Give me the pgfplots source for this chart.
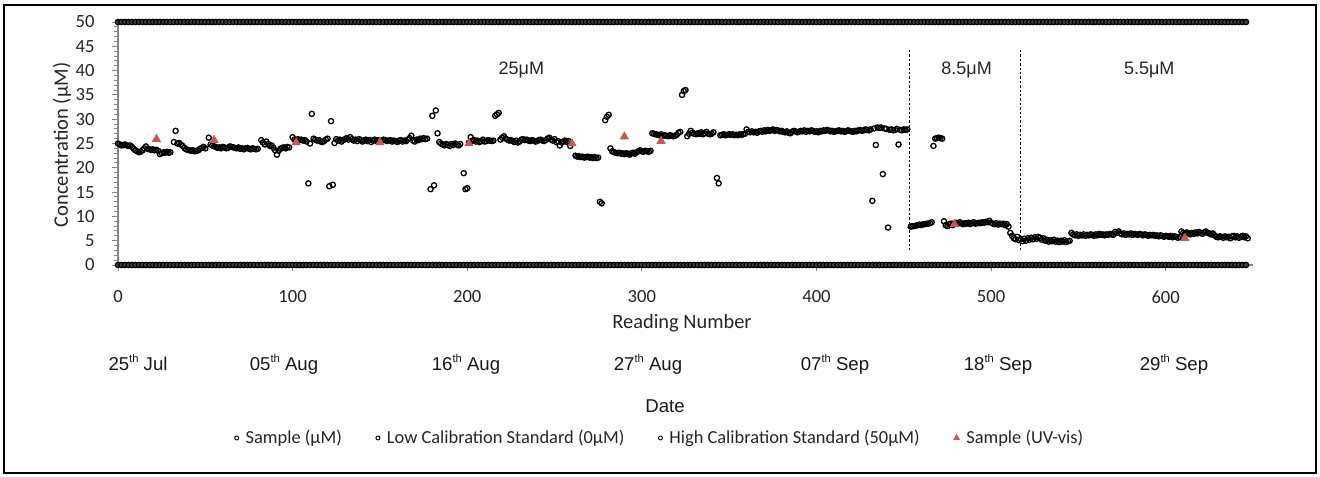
\documentclass[border=0pt]{standalone}
\usepackage{pgfplots}
\pgfplotsset{compat=1.18}
\usepackage{pgfplotstable}
\usepackage{fontspec}
\setmainfont{Carlito}
\newfontfamily\arialfont{Liberation Sans}
\definecolor{uvred}{RGB}{196,88,84}
\definecolor{axgray}{RGB}{134,134,134}
\newcommand{\sth}[1]{\raisebox{0.42em}{\fontsize{5.6}{6}\selectfont #1}}

\pgfplotstableread[row sep=\\]{
x lo hi\\
0 0 50\\ 2 0 50\\ 4 0 50\\ 6 0 50\\ 8 0 50\\ 10 0 50\\ 12 0 50\\ 14 0 50\\ 16 0 50\\ 18 0 50\\
20 0 50\\ 22 0 50\\ 24 0 50\\ 26 0 50\\ 28 0 50\\ 30 0 50\\ 32 0 50\\ 34 0 50\\ 36 0 50\\ 38 0 50\\
40 0 50\\ 42 0 50\\ 44 0 50\\ 46 0 50\\ 48 0 50\\ 50 0 50\\ 52 0 50\\ 54 0 50\\ 56 0 50\\ 58 0 50\\
60 0 50\\ 62 0 50\\ 64 0 50\\ 66 0 50\\ 68 0 50\\ 70 0 50\\ 72 0 50\\ 74 0 50\\ 76 0 50\\ 78 0 50\\
80 0 50\\ 82 0 50\\ 84 0 50\\ 86 0 50\\ 88 0 50\\ 90 0 50\\ 92 0 50\\ 94 0 50\\ 96 0 50\\ 98 0 50\\
100 0 50\\ 102 0 50\\ 104 0 50\\ 106 0 50\\ 108 0 50\\ 110 0 50\\ 112 0 50\\ 114 0 50\\ 116 0 50\\ 118 0 50\\
120 0 50\\ 122 0 50\\ 124 0 50\\ 126 0 50\\ 128 0 50\\ 130 0 50\\ 132 0 50\\ 134 0 50\\ 136 0 50\\ 138 0 50\\
140 0 50\\ 142 0 50\\ 144 0 50\\ 146 0 50\\ 148 0 50\\ 150 0 50\\ 152 0 50\\ 154 0 50\\ 156 0 50\\ 158 0 50\\
160 0 50\\ 162 0 50\\ 164 0 50\\ 166 0 50\\ 168 0 50\\ 170 0 50\\ 172 0 50\\ 174 0 50\\ 176 0 50\\ 178 0 50\\
180 0 50\\ 182 0 50\\ 184 0 50\\ 186 0 50\\ 188 0 50\\ 190 0 50\\ 192 0 50\\ 194 0 50\\ 196 0 50\\ 198 0 50\\
200 0 50\\ 202 0 50\\ 204 0 50\\ 206 0 50\\ 208 0 50\\ 210 0 50\\ 212 0 50\\ 214 0 50\\ 216 0 50\\ 218 0 50\\
220 0 50\\ 222 0 50\\ 224 0 50\\ 226 0 50\\ 228 0 50\\ 230 0 50\\ 232 0 50\\ 234 0 50\\ 236 0 50\\ 238 0 50\\
240 0 50\\ 242 0 50\\ 244 0 50\\ 246 0 50\\ 248 0 50\\ 250 0 50\\ 252 0 50\\ 254 0 50\\ 256 0 50\\ 258 0 50\\
260 0 50\\ 262 0 50\\ 264 0 50\\ 266 0 50\\ 268 0 50\\ 270 0 50\\ 272 0 50\\ 274 0 50\\ 276 0 50\\ 278 0 50\\
280 0 50\\ 282 0 50\\ 284 0 50\\ 286 0 50\\ 288 0 50\\ 290 0 50\\ 292 0 50\\ 294 0 50\\ 296 0 50\\ 298 0 50\\
300 0 50\\ 302 0 50\\ 304 0 50\\ 306 0 50\\ 308 0 50\\ 310 0 50\\ 312 0 50\\ 314 0 50\\ 316 0 50\\ 318 0 50\\
320 0 50\\ 322 0 50\\ 324 0 50\\ 326 0 50\\ 328 0 50\\ 330 0 50\\ 332 0 50\\ 334 0 50\\ 336 0 50\\ 338 0 50\\
340 0 50\\ 342 0 50\\ 344 0 50\\ 346 0 50\\ 348 0 50\\ 350 0 50\\ 352 0 50\\ 354 0 50\\ 356 0 50\\ 358 0 50\\
360 0 50\\ 362 0 50\\ 364 0 50\\ 366 0 50\\ 368 0 50\\ 370 0 50\\ 372 0 50\\ 374 0 50\\ 376 0 50\\ 378 0 50\\
380 0 50\\ 382 0 50\\ 384 0 50\\ 386 0 50\\ 388 0 50\\ 390 0 50\\ 392 0 50\\ 394 0 50\\ 396 0 50\\ 398 0 50\\
400 0 50\\ 402 0 50\\ 404 0 50\\ 406 0 50\\ 408 0 50\\ 410 0 50\\ 412 0 50\\ 414 0 50\\ 416 0 50\\ 418 0 50\\
420 0 50\\ 422 0 50\\ 424 0 50\\ 426 0 50\\ 428 0 50\\ 430 0 50\\ 432 0 50\\ 434 0 50\\ 436 0 50\\ 438 0 50\\
440 0 50\\ 442 0 50\\ 444 0 50\\ 446 0 50\\ 448 0 50\\ 450 0 50\\ 452 0 50\\ 454 0 50\\ 456 0 50\\ 458 0 50\\
460 0 50\\ 462 0 50\\ 464 0 50\\ 466 0 50\\ 468 0 50\\ 470 0 50\\ 472 0 50\\ 474 0 50\\ 476 0 50\\ 478 0 50\\
480 0 50\\ 482 0 50\\ 484 0 50\\ 486 0 50\\ 488 0 50\\ 490 0 50\\ 492 0 50\\ 494 0 50\\ 496 0 50\\ 498 0 50\\
500 0 50\\ 502 0 50\\ 504 0 50\\ 506 0 50\\ 508 0 50\\ 510 0 50\\ 512 0 50\\ 514 0 50\\ 516 0 50\\ 518 0 50\\
520 0 50\\ 522 0 50\\ 524 0 50\\ 526 0 50\\ 528 0 50\\ 530 0 50\\ 532 0 50\\ 534 0 50\\ 536 0 50\\ 538 0 50\\
540 0 50\\ 542 0 50\\ 544 0 50\\ 546 0 50\\ 548 0 50\\ 550 0 50\\ 552 0 50\\ 554 0 50\\ 556 0 50\\ 558 0 50\\
560 0 50\\ 562 0 50\\ 564 0 50\\ 566 0 50\\ 568 0 50\\ 570 0 50\\ 572 0 50\\ 574 0 50\\ 576 0 50\\ 578 0 50\\
580 0 50\\ 582 0 50\\ 584 0 50\\ 586 0 50\\ 588 0 50\\ 590 0 50\\ 592 0 50\\ 594 0 50\\ 596 0 50\\ 598 0 50\\
600 0 50\\ 602 0 50\\ 604 0 50\\ 606 0 50\\ 608 0 50\\ 610 0 50\\ 612 0 50\\ 614 0 50\\ 616 0 50\\ 618 0 50\\
620 0 50\\ 622 0 50\\ 624 0 50\\ 626 0 50\\ 628 0 50\\ 630 0 50\\ 632 0 50\\ 634 0 50\\ 636 0 50\\ 638 0 50\\
640 0 50\\ 642 0 50\\ 644 0 50\\ 646 0 50\\
}\calib

\begin{document}
\begin{tikzpicture}
\useasboundingbox (-59pt,-105.5pt) rectangle (601pt,132.5pt);
\draw[line width=1pt] (-57pt,-104pt) rectangle (599pt,130pt);
\begin{axis}[
  at={(0pt,0pt)}, anchor=south west,
  scale only axis, width=567.5pt, height=121.5pt,
  xmin=0, xmax=650, ymin=0, ymax=50,
  axis x line*=bottom, axis y line*=left,
  axis line style={draw=axgray, line width=0.6pt, -},
  every tick/.style={axgray, line width=0.5pt},
  tick align=outside, major tick length=3pt, minor tick length=1.8pt,
  xtick={0,100,...,600}, ytick={0,5,...,50}, minor y tick num=4,
  clip=false,
  /pgf/number format/assume math mode=true,
  ticklabel style={font=\fontsize{9.3}{10}\selectfont, text=black!85, inner sep=0pt},
  xticklabel style={anchor=center, yshift=-13pt},
  yticklabel style={anchor=east, xshift=-8.5pt},
  legend columns=4,
  legend style={at={(axis description cs:0.4784,-0.7119)}, anchor=center, draw=none, fill=none,
    font=\fontsize{9.2}{11}\selectfont, text=black!85,
    /tikz/every odd column/.append style={column sep=1.5pt},
    /tikz/every even column/.append style={column sep=15pt}},
  legend image code/.code={\draw[#1] plot coordinates {(0pt,0pt)};},
]
\addplot[only marks, mark=o, mark size=1.3pt, mark options={black, line width=0.65pt}, legend image post style={mark size=1pt, mark options={line width=0.45pt}}] coordinates {
(0,25.0)(1,24.8)(2,24.6)(3,24.7)(4,24.8)(5,24.6)(6,24.5)(7,24.6)(8,24.3)(9,23.9)(10,23.6)(11,23.4)(12,23.2)(13,23.3)(14,23.6)(15,24.0)(16,24.4)(17,23.9)(18,23.8)(19,23.7)(20,23.8)(21,23.6)(22,23.7)(23,23.5)(24,22.8)(25,23.0)(26,23.2)(27,23.1)(28,23.3)(29,23.1)(30,23.2)
(32,25.3)(33,27.6)(34,25.0)(35,25.1)(36,24.8)(37,24.5)(38,24.1)(39,23.8)(40,23.7)(41,23.6)(42,23.5)(43,23.6)(44,23.4)(45,23.5)(46,23.6)(47,23.9)(48,24.1)(49,24.3)(50,24.0)
(52,26.2)(53,24.8)(54,24.6)(55,24.4)(56,24.3)(57,24.1)(58,24.2)(59,24.0)(60,24.3)(61,24.2)(62,24.0)(63,24.1)(64,24.4)(65,24.3)(66,24.2)(67,24.1)(68,24.0)(69,24.2)(70,23.9)(71,24.0)(72,23.8)(73,24.0)(74,24.1)(75,23.9)(76,23.8)(77,24.0)(78,23.9)(79,23.8)(80,23.9)
(82,25.7)(83,25.2)(84,24.8)(85,25.4)(86,24.9)(87,24.5)(88,24.6)(89,24.1)(90,23.6)(91,22.7)(92,23.5)(93,23.9)(94,24.1)(95,24.2)(96,24.0)(97,24.3)(98,24.2)
(100,26.3)(101,25.8)(102,25.6)(103,25.9)(104,25.7)(105,25.8)(106,25.6)(107,25.7)(108,25.4)(109,16.8)(110,25.0)(111,31.1)(112,26.0)(113,25.8)(114,25.6)(115,25.7)(116,25.4)(117,25.3)(118,25.5)(119,25.8)(120,26.0)(121,16.2)(122,29.6)(123,16.5)(124,25.1)(125,25.9)(126,25.6)(127,25.8)(128,25.4)(129,25.7)(130,25.9)(131,26.1)(132,25.8)(133,26.3)(134,25.9)(135,25.6)(136,25.8)(137,25.5)(138,25.9)(139,25.7)(140,25.4)(141,25.6)(142,25.8)(143,25.5)(144,25.7)(145,25.3)(146,25.6)(147,25.8)(148,25.5)(149,25.7)(150,25.4)(151,25.6)(152,25.8)(153,25.7)(154,25.5)(155,25.6)(156,25.7)(157,25.4)(158,25.6)(159,25.5)(160,25.3)(161,25.6)(162,25.7)(163,25.4)(164,25.6)(165,25.5)(166,25.8)(167,26.1)(168,26.6)(169,25.6)(170,25.4)(171,25.8)(172,25.7)(173,26.0)(174,25.9)(175,26.1)(176,25.9)(177,26.0)
(179,15.6)(180,30.7)(181,16.4)(182,31.8)(183,27.1)(184,25.3)(185,25.0)(186,24.8)(187,24.6)(188,24.9)(189,24.7)(190,24.5)(191,24.9)(192,24.7)(193,25.0)(194,24.8)(195,24.6)(196,24.9)(198,18.9)(199,15.6)(200,15.8)
(201,25.2)(202,26.3)(203,25.6)(204,25.7)(205,25.4)(206,25.6)(207,25.3)(208,25.5)(209,25.8)(210,25.4)(211,25.5)(212,25.7)(213,25.6)(214,25.5)(215,25.6)(216,30.7)(217,31.0)(218,31.3)(219,25.8)(220,26.2)(221,26.5)(222,26.0)(223,25.8)(224,25.6)(225,25.7)(226,25.5)(227,25.3)(228,25.6)(229,25.2)(230,25.4)(231,25.8)(232,25.9)(233,25.7)(234,25.8)(235,25.6)(236,25.5)(237,25.7)(238,25.6)(239,25.4)(240,25.5)(241,25.7)(242,25.8)(243,25.6)(244,25.5)(245,25.7)(246,26.0)(247,26.2)(248,25.8)(249,25.6)(250,25.9)(251,25.3)(252,25.5)(253,24.6)(254,25.2)(255,25.4)(256,25.6)(257,25.3)(258,25.5)(259,24.5)
(262,22.5)(263,22.3)(264,22.4)(265,22.2)(266,22.3)(267,22.1)(268,22.2)(269,22.3)(270,22.1)(271,22.2)(272,22.0)(273,22.2)(274,22.0)(275,22.1)
(276,13.0)(277,12.7)(279,29.8)(280,30.5)(281,30.9)
(282,24.0)(283,23.4)(284,23.2)(285,23.1)(286,23.0)(287,23.1)(288,22.9)(289,23.0)(290,22.8)(291,23.0)(292,22.9)(293,22.7)(294,23.0)(295,23.1)(296,22.9)(297,23.2)(298,23.4)(299,23.6)(300,23.4)(301,23.3)(302,23.5)(303,23.4)(304,23.3)(305,23.5)
(306,27.1)(307,27.0)(308,26.9)(309,26.8)(310,26.7)(311,26.9)(312,26.6)(313,26.7)(314,26.6)(315,26.5)(316,26.7)(317,26.6)(318,26.5)(319,26.6)(320,26.8)(321,27.2)(322,27.4)(323,35.0)(324,35.8)(325,36.0)
(326,26.5)(327,27.0)(328,27.6)(329,27.2)(330,27.0)(331,26.9)(332,27.1)(333,27.0)(334,27.3)(335,26.9)(336,27.1)(337,27.4)(338,27.0)(339,26.9)(340,27.0)(341,27.3)(343,17.9)(344,16.8)
(345,26.7)(346,26.8)(347,26.9)(348,26.7)(349,26.8)(350,26.9)(351,26.8)(352,26.9)(353,26.7)(354,26.8)(355,26.7)(356,26.9)(357,26.8)(358,26.9)(359,27.0)(360,27.9)
(361,27.4)(362,27.3)(363,27.5)(364,27.3)(365,27.4)(366,27.2)(367,27.5)(368,27.6)(369,27.4)(370,27.7)(371,27.5)(372,27.8)(373,27.6)(374,27.7)(375,27.9)(376,27.6)(377,27.8)(378,27.7)(379,27.5)(380,27.6)(381,27.4)(382,27.3)(383,27.5)(384,27.2)(385,27.1)(386,27.4)(387,27.6)(388,27.5)(389,27.3)(390,27.4)(391,27.6)(392,27.5)(393,27.7)(394,27.4)(395,27.6)(396,27.5)(397,27.7)(398,27.6)(399,27.4)(400,27.5)
(401,27.3)(402,27.6)(403,27.5)(404,27.7)(405,27.6)(406,27.8)(407,27.7)(408,27.5)(409,27.6)(410,27.4)(411,27.5)(412,27.6)(413,27.7)(414,27.5)(415,27.6)(416,27.4)(417,27.5)(418,27.7)(419,27.6)(420,27.5)(421,27.4)(422,27.6)(423,27.5)(424,27.7)(425,27.8)(426,27.6)(427,27.7)(428,27.9)(429,27.8)(430,27.7)(431,27.9)(432,13.2)(433,28.1)(434,24.7)(435,28.3)(436,28.2)(437,28.3)(438,18.7)(439,28.1)(440,28.0)(441,7.7)(442,27.8)(443,27.9)(444,27.7)(445,27.8)(446,28.0)(447,24.8)(448,27.8)(449,27.7)(450,27.9)(451,27.8)(452,27.9)
(454,7.9)(455,8.0)(456,8.0)(457,8.1)(458,8.2)(459,8.3)(460,8.2)(461,8.4)(462,8.4)(463,8.5)(464,8.5)(465,8.6)(466,8.8)
(467,24.5)(468,26.0)(469,26.1)(470,26.2)(471,26.1)(472,26.0)
(473,9.0)(474,8.2)(475,8.0)(476,8.4)(477,8.5)(478,8.2)(479,8.6)(480,8.7)(481,8.5)(482,8.8)(483,8.6)(484,8.4)(485,8.6)(486,8.5)(487,8.7)(488,8.4)(489,8.6)(490,8.8)(491,8.5)(492,8.6)(493,8.7)(494,8.6)(495,8.8)(496,8.7)(497,8.9)(498,8.8)(499,9.1)(500,8.7)(501,8.5)(502,8.4)(503,8.6)(504,8.3)(505,8.5)(506,8.4)(507,8.5)(508,8.2)(509,8.4)(510,7.9)(511,6.6)(512,6.0)(513,5.5)(514,5.3)(515,5.8)(516,5.1)
(517,5.3)(518,4.9)(519,5.4)(520,5.0)(521,5.5)(522,5.2)(523,5.6)(524,5.3)(525,5.7)(526,5.4)(527,5.8)(528,5.6)(529,5.2)(530,5.5)(531,5.0)(532,5.2)(533,4.8)(534,5.1)(535,4.9)(536,5.2)(537,4.8)(538,5.0)(539,4.7)(540,5.0)(541,4.8)(542,5.1)(543,4.7)(544,4.9)(545,5.0)
(546,6.6)(547,6.3)(548,6.1)(549,6.3)(550,6.0)(551,6.2)(552,6.1)(553,6.3)(554,6.0)(555,6.2)(556,6.1)(557,6.3)(558,6.2)(559,6.0)(560,6.3)(561,6.1)(562,6.4)(563,6.2)(564,6.3)(565,6.1)(566,6.3)(567,6.2)(568,6.4)(569,6.3)(570,6.2)(571,6.8)(572,6.6)(573,6.9)(574,6.5)(575,6.3)(576,6.5)(577,6.2)(578,6.4)(579,6.3)(580,6.5)(581,6.2)(582,6.4)(583,6.3)(584,6.2)(585,6.4)(586,6.3)(587,6.1)(588,6.3)(589,6.2)(590,6.0)(591,6.2)(592,6.1)(593,6.2)(594,6.0)(595,6.1)(596,5.9)(597,6.1)(598,6.0)(599,5.8)(600,6.0)
(601,5.9)(602,5.8)(603,6.0)(604,5.7)(605,5.9)(606,5.8)(607,5.6)(608,5.8)(609,6.9)(610,6.6)(611,6.4)(612,6.7)(613,6.5)(614,6.3)(615,6.6)(616,6.4)(617,6.7)(618,6.5)(619,6.8)(620,6.6)(621,6.4)(622,6.7)(623,6.9)(624,6.6)(625,6.5)(626,6.3)(627,6.5)(628,6.1)(629,5.8)(630,5.7)(631,5.9)(632,5.8)(633,5.6)(634,5.9)(635,5.7)(636,5.8)(637,5.5)(638,5.9)(639,6.0)(640,5.7)(641,5.9)(642,5.6)(643,5.8)(644,6.0)(645,5.7)(646,5.9)(647,5.5)
};
\addlegendentry{Sample (μM)}
\addplot[only marks, mark=*, mark size=1.35pt, mark options={draw=black, fill=black!75, line width=0.6pt}, legend image post style={mark=o, mark size=1pt, mark options={line width=0.45pt, fill=none}}] table[x=x, y=lo] {\calib};
\addlegendentry{Low Calibration Standard (0μM)}
\addplot[only marks, mark=*, mark size=1.35pt, mark options={draw=black, fill=black!75, line width=0.6pt}, legend image post style={mark=o, mark size=1pt, mark options={line width=0.45pt, fill=none}}] table[x=x, y=hi] {\calib};
\addlegendentry{High Calibration Standard (50μM)}
\addplot[only marks, mark=triangle*, mark size=2.3pt, mark options={uvred, draw=uvred}, legend image post style={mark size=1.6pt}] coordinates {
(22,25.9)(55,25.7)(102,25.2)(150,25.2)(201,25.0)(260,25.0)(290,26.4)(311,25.5)(479,8.4)(611,5.5)
};
\addlegendentry{Sample (UV-vis)}
\draw[black, line width=0.4pt, dash pattern=on 1.2pt off 1pt] (axis cs:453,3) -- (axis cs:453,44.5);
\draw[black, line width=0.4pt, dash pattern=on 1.2pt off 1pt] (axis cs:517,3) -- (axis cs:517,44.5);
\node[font=\arialfont\fontsize{9}{10}\selectfont, text=black!85] at (axis cs:231,40.1) {25μM};
\node[font=\arialfont\fontsize{9}{10}\selectfont, text=black!85] at (axis cs:486,40.1) {8.5μM};
\node[font=\arialfont\fontsize{9}{10}\selectfont, text=black!85] at (axis cs:590.6,40.1) {5.5μM};
\end{axis}
\node[rotate=90, font=\fontsize{10.3}{12}\selectfont, text=black!85] at (-28pt,60pt) {Concentration (μM)};
\node[anchor=base, font=\fontsize{10.2}{12}\selectfont, text=black!85] at (282pt,-31.75pt) {Reading Number};
\begin{scope}[every node/.style={anchor=base, font=\arialfont\fontsize{9.3}{11}\selectfont, text=black!90}]
\node at (10pt,-52.5pt) {25\sth{th} Jul};
\node at (83pt,-52.5pt) {05\sth{th} Aug};
\node at (174pt,-52.5pt) {16\sth{th} Aug};
\node at (265pt,-52.5pt) {27\sth{th} Aug};
\node at (358.5pt,-52.5pt) {07\sth{th} Sep};
\node at (440pt,-52.5pt) {18\sth{th} Sep};
\node at (528pt,-52.5pt) {29\sth{th} Sep};
\node at (273.5pt,-73.5pt) {Date};
\end{scope}
\end{tikzpicture}
\end{document}
